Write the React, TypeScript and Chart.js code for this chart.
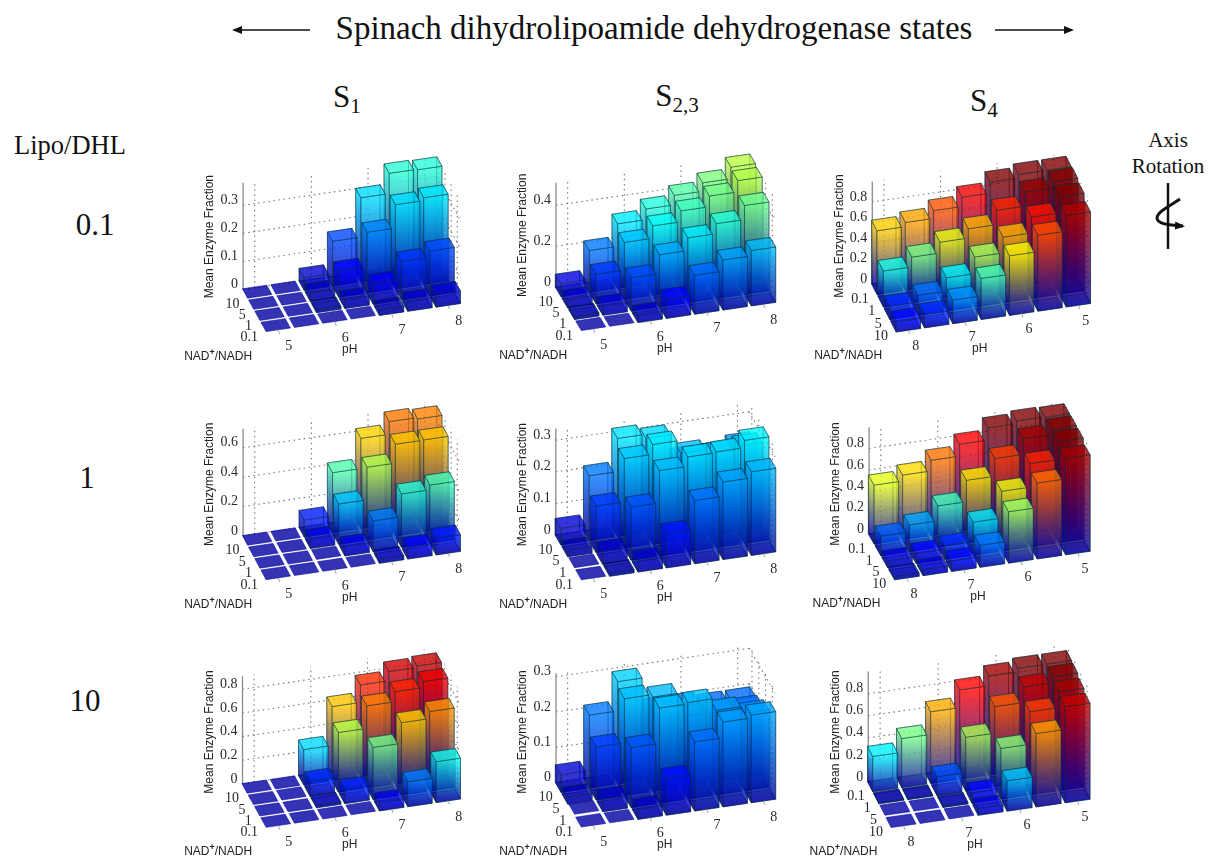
import React, { useEffect, useRef } from "react";
import { Chart, registerables } from "chart.js";

Chart.register(...registerables);

const phValues = [5, 5.5, 6, 6.5, 7, 7.5, 8];
const phTicks = [5, 6, 7, 8];
const nadValues = ["0.1", "1", "5", "10"];

// Mean enzyme fraction: one row per NAD+/NADH value, one entry per pH value
const s1Lipo01 = [
  [0.002, 0.002, 0.002, 0.002, 0.02, 0.035, 0.045],
  [0.002, 0.002, 0.01, 0.03, 0.073, 0.138, 0.16],
  [0.002, 0.002, 0.03, 0.093, 0.217, 0.3, 0.31],
  [0.002, 0.002, 0.045, 0.16, 0.3, 0.372, 0.37],
];
const s23Lipo01 = [
  [0.002, 0.002, 0.037, 0.093, 0.19, 0.244, 0.27],
  [0.015, 0.044, 0.163, 0.255, 0.317, 0.366, 0.434],
  [0.04, 0.145, 0.28, 0.34, 0.393, 0.445, 0.5],
  [0.063, 0.205, 0.315, 0.367, 0.413, 0.454, 0.51],
];
const s4Lipo01 = [
  [0.965, 0.965, 0.93, 0.825, 0.735, 0.66, 0.62],
  [0.975, 0.915, 0.78, 0.64, 0.55, 0.445, 0.35],
  [0.95, 0.795, 0.64, 0.487, 0.325, 0.195, 0.127],
  [0.89, 0.74, 0.58, 0.4, 0.23, 0.13, 0.1],
];
const s1Lipo1 = [
  [0.002, 0.002, 0.002, 0.002, 0.027, 0.08, 0.113],
  [0.002, 0.002, 0.005, 0.063, 0.21, 0.365, 0.397],
  [0.002, 0.002, 0.063, 0.275, 0.497, 0.625, 0.626],
  [0.002, 0.002, 0.116, 0.41, 0.615, 0.7, 0.69],
];
const s23Lipo1 = [
  [0.002, 0.01, 0.036, 0.108, 0.2, 0.245, 0.264],
  [0.003, 0.04, 0.168, 0.27, 0.3, 0.303, 0.326],
  [0.02, 0.147, 0.284, 0.315, 0.274, 0.26, 0.27],
  [0.052, 0.205, 0.31, 0.297, 0.22, 0.22, 0.236],
];
const s4Lipo1 = [
  [0.95, 0.955, 0.93, 0.815, 0.705, 0.605, 0.55],
  [0.95, 0.9, 0.755, 0.59, 0.39, 0.25, 0.185],
  [0.945, 0.78, 0.56, 0.31, 0.13, 0.095, 0.065],
  [0.9, 0.71, 0.48, 0.205, 0.1, 0.055, 0.03],
];
const s1Lipo10 = [
  [0.002, 0.002, 0.002, 0.003, 0.07, 0.21, 0.345],
  [0.002, 0.002, 0.02, 0.12, 0.44, 0.614, 0.673],
  [0.002, 0.005, 0.127, 0.505, 0.695, 0.78, 0.83],
  [0.002, 0.002, 0.3, 0.628, 0.775, 0.853, 0.865],
];
const s23Lipo10 = [
  [0.002, 0.002, 0.03, 0.104, 0.196, 0.24, 0.248],
  [0.005, 0.035, 0.17, 0.27, 0.274, 0.24, 0.22],
  [0.02, 0.15, 0.275, 0.268, 0.2, 0.2, 0.2],
  [0.05, 0.207, 0.29, 0.2, 0.2, 0.19, 0.19],
];
const s4Lipo10 = [
  [0.93, 0.93, 0.9, 0.81, 0.65, 0.445, 0.32],
  [0.925, 0.87, 0.73, 0.49, 0.17, 0.01, 0.01],
  [0.897, 0.755, 0.46, 0.095, 0.015, 0.005, 0.005],
  [0.87, 0.665, 0.275, 0.06, 0.005, 0.002, 0.002],
];

const ticks01 = [0, 0.1, 0.2, 0.3];
const ticks02 = [0, 0.2, 0.4];
const ticks04 = [0, 0.2, 0.4, 0.6];
const ticks08 = [0, 0.2, 0.4, 0.6, 0.8];

// Panel placement and oblique view (u = 1/3 px, measured on 3x crops)
const U = 1 / 3;
const panels = [
  { left: 170, top: 140, x0: 317, y0: 557, cs: 85, dxr: 18.5, dyr: 33.4, k: 843, zTop: 0.38, ticks: ticks01, values: s1Lipo01, flip: false },
  { left: 490, top: 140, x0: 302, y0: 553, cs: 85, dxr: 20.3, dyr: 34.2, k: 615, zTop: 0.51, ticks: ticks02, values: s23Lipo01, flip: false },
  { left: 800, top: 140, x0: 317, y0: 555, cs: 85, dxr: 19.2, dyr: 37.6, k: 308, zTop: 1.0, ticks: ticks08, values: s4Lipo01, flip: true },
  { left: 170, top: 390, x0: 317, y0: 550, cs: 85, dxr: 18.5, dyr: 34.5, k: 441, zTop: 0.73, ticks: ticks04, values: s1Lipo1, flip: false },
  { left: 490, top: 390, x0: 302, y0: 551, cs: 85, dxr: 20.5, dyr: 35.5, k: 950, zTop: 0.337, ticks: ticks01, values: s23Lipo1, flip: false },
  { left: 800, top: 390, x0: 312, y0: 549, cs: 85.5, dxr: 20.5, dyr: 35.8, k: 321, zTop: 1.0, ticks: ticks08, values: s4Lipo1, flip: true },
  { left: 170, top: 630, x0: 317, y0: 573, cs: 85, dxr: 19, dyr: 34.2, k: 355, zTop: 0.91, ticks: ticks08, values: s1Lipo10, flip: false },
  { left: 490, top: 630, x0: 302, y0: 573, cs: 85, dxr: 20.3, dyr: 35.3, k: 1060, zTop: 0.31, ticks: ticks01, values: s23Lipo10, flip: false },
  { left: 800, top: 630, x0: 303, y0: 573, cs: 87, dxr: 18.4, dyr: 36, k: 331, zTop: 1.0, ticks: ticks08, values: s4Lipo10, flip: true },
];

const CANVAS_W = 310;
const CANVAS_H = 230;
const COL_RISE = 12.5 * U;
const CORNER_COL = 0.41;
const CORNER_ROW = 0.4;
const HALF_COL = 0.43;
const HALF_ROW = 0.42;
const ALPHA = 0.7;
const INNER_ALPHA = 0.32;
const SERIF = "'Liberation Serif'";
const SANS = "'Liberation Sans'";

function jet(v: number): [number, number, number] {
  const t = Math.max(0, Math.min(1, 0.03 + v * 1.04));
  const ch = (c: number) => Math.max(0, Math.min(1, 1.5 - Math.abs(4 * t - c)));
  return [ch(3), ch(2), ch(1)].map((n) => Math.round(n * 255)) as [number, number, number];
}
const rgba = (c: number[], a: number) => `rgba(${c[0]},${c[1]},${c[2]},${a})`;

const bars3d = {
  id: "bars3d",
  beforeDatasetsDraw(chart: any, _a: any, opts: any) {
    const { ctx, scales } = chart;
    const p = opts.panel;
    const dxr = p.dxr * U;
    const dyr = p.dyr * U;
    const cornerCol = -CORNER_COL;
    const cornerRow = 3 + CORNER_ROW;
    const phOf = (col: number) => (p.flip ? 8 - col / 2 : 5 + col / 2);
    const pt = (col: number, row: number, z: number): [number, number] => [
      scales.x.getPixelForValue(phOf(col)) - row * dxr,
      scales.y.getPixelForValue(z) - (col - cornerCol) * COL_RISE - (row - cornerRow) * dyr,
    ];
    const poly = (pts: [number, number][]) => {
      ctx.beginPath();
      pts.forEach((q, i) => (i ? ctx.lineTo(q[0], q[1]) : ctx.moveTo(q[0], q[1])));
      ctx.closePath();
    };
    const endCol = 6 + CORNER_COL;
    const frontRow = -CORNER_ROW;

    // Dotted back walls
    ctx.save();
    ctx.strokeStyle = "rgba(105,105,105,0.9)";
    ctx.lineWidth = 1.1;
    ctx.setLineDash([1.5, 3.6]);
    const line = (a: [number, number], b: [number, number]) => {
      ctx.beginPath();
      ctx.moveTo(a[0], a[1]);
      ctx.lineTo(b[0], b[1]);
      ctx.stroke();
    };
    p.ticks.forEach((z: number) => {
      line(pt(cornerCol, cornerRow, z), pt(endCol, cornerRow, z));
      line(pt(endCol, cornerRow, z), pt(endCol, frontRow, z));
    });
    [0, 2, 4, 6].forEach((c) => line(pt(c, cornerRow, 0), pt(c, cornerRow, p.zTop)));
    [0, 1, 2, 3].forEach((r) => line(pt(endCol, r, 0), pt(endCol, r, p.zTop)));
    ctx.restore();

    // z axis
    ctx.strokeStyle = "#8a8a8a";
    ctx.lineWidth = 1.3;
    const a0 = pt(cornerCol, cornerRow, 0);
    const a1 = pt(cornerCol, cornerRow, p.zTop);
    ctx.beginPath();
    ctx.moveTo(a0[0], a0[1]);
    ctx.lineTo(a1[0], a1[1]);
    ctx.stroke();

    // Bars: far rows first, then far columns first
    for (let r = 3; r >= 0; r--) {
      const nadIdx = p.flip ? 3 - r : r;
      const data = chart.data.datasets[nadIdx].data;
      for (let c = 6; c >= 0; c--) {
        const ph = phOf(c);
        const item = data.find((d: any) => d.x === ph);
        const z = item.y;
        const L = c - HALF_COL;
        const R = c + HALF_COL;
        const F = r - HALF_ROW;
        const B = r + HALF_ROW;
        const face = (c1: number, r1: number, c2: number, r2: number, alpha: number) => {
          const q = [pt(c1, r1, 0), pt(c2, r2, 0), pt(c2, r2, z), pt(c1, r1, z)];
          poly(q);
          const gy0 = q[0][1];
          const g = ctx.createLinearGradient(0, gy0, 0, gy0 - Math.max(z * p.k * U, 1));
          g.addColorStop(0, rgba(jet(0), alpha));
          g.addColorStop(1, rgba(jet(z), alpha));
          ctx.fillStyle = g;
          ctx.fill();
          ctx.stroke();
        };
        ctx.lineWidth = 0.9;
        ctx.strokeStyle = "rgba(0,45,55,0.5)";
        if (z > 0.008) {
          poly([pt(L, F, 0), pt(R, F, 0), pt(R, B, 0), pt(L, B, 0)]);
          ctx.fillStyle = rgba(jet(0), 0.6);
          ctx.fill();
          ctx.stroke();
          face(L, B, R, B, INNER_ALPHA);
          face(R, B, R, F, INNER_ALPHA);
          face(L, B, L, F, ALPHA);
          face(L, F, R, F, ALPHA);
        }
        poly([pt(L, F, z), pt(R, F, z), pt(R, B, z), pt(L, B, z)]);
        ctx.fillStyle = rgba(jet(z), z > 0.008 ? ALPHA : 0.8);
        ctx.fill();
        if (z > 0.008) {
          ctx.stroke();
        } else {
          ctx.strokeStyle = rgba(jet(z), 0.6);
          ctx.stroke();
        }
      }
    }

    // Floor tick marks and labels
    ctx.fillStyle = "#2a2a2a";
    ctx.strokeStyle = "#888";
    ctx.lineWidth = 0.8;
    ctx.font = `14px ${SERIF}`;
    ctx.textBaseline = "middle";
    ctx.textAlign = "center";
    phTicks.forEach((ph) => {
      const col = p.flip ? (8 - ph) * 2 : (ph - 5) * 2;
      const q = pt(col, 0, 0);
      const e = pt(col, frontRow, 0);
      ctx.beginPath();
      ctx.moveTo(e[0], e[1]);
      ctx.lineTo(e[0] + 1.5, e[1] + 4);
      ctx.stroke();
      ctx.fillText(String(ph), q[0] + (p.flip ? 10 : 13), q[1] + 21);
    });
    ctx.textAlign = "right";
    nadValues.forEach((label, i) => {
      const row = p.flip ? 3 - i : i;
      const q = pt(-CORNER_COL, row, 0);
      ctx.fillText(label, q[0] - 6, q[1] + 10);
    });

    const ox = p.x0 * U;
    const oy = p.y0 * U;
    ctx.font = `12px ${SANS}`;
    ctx.fillStyle = "#222";
    ctx.textAlign = "center";
    ctx.fillText("pH", ox + 74, oy + 24);
    ctx.textAlign = "left";
    let tx = ox - 91.5;
    const ty = oy + 31;
    ctx.fillText("NAD", tx, ty);
    tx += ctx.measureText("NAD").width;
    ctx.font = `bold 9px ${SANS}`;
    ctx.fillText("+", tx, ty - 4);
    tx += ctx.measureText("+").width;
    ctx.font = `12px ${SANS}`;
    ctx.fillText("/NADH", tx, ty);

    ctx.save();
    ctx.translate(a0[0] - 33, oy - 89);
    ctx.rotate(-Math.PI / 2);
    ctx.textAlign = "center";
    ctx.fillText("Mean Enzyme Fraction", 0, 0);
    ctx.restore();
  },
};

function Panel({ panel }: { panel: (typeof panels)[number] }) {
  const ref = useRef<HTMLCanvasElement>(null);
  useEffect(() => {
    const cs = panel.cs * U;
    const x0 = panel.x0 * U;
    const cornerOffsetX = -CORNER_COL * cs - (3 + CORNER_ROW) * panel.dxr * U;
    const axisX = x0 + cornerOffsetX;
    const axisY = (panel.y0 + CORNER_COL * 12.5 - (3 + CORNER_ROW) * panel.dyr) * U;
    const kPx = panel.k * U;
    const pxPerPh = 2 * cs;
    const xScale = panel.flip
      ? { min: 8 - (CANVAS_W - x0) / pxPerPh, max: 8 + (x0 - axisX) / pxPerPh, reverse: true }
      : { min: 5 - (x0 - axisX) / pxPerPh, max: 5 + (CANVAS_W - x0) / pxPerPh, reverse: false };
    const chart = new Chart(ref.current as HTMLCanvasElement, {
      type: "scatter",
      data: {
        datasets: panel.values.map((row, i) => ({
          label: `NAD+/NADH ${nadValues[i]}`,
          data: phValues.map((x, j) => ({ x, y: row[j] })),
          pointRadius: 0,
          showLine: false,
        })),
      },
      options: {
        animation: false,
        responsive: false,
        devicePixelRatio: 1,
        layout: { padding: 0 },
        plugins: {
          legend: { display: false },
          tooltip: { enabled: false },
          bars3d: { panel },
        } as any,
        scales: {
          x: { type: "linear", display: false, bounds: "data", ...xScale },
          y: {
            type: "linear",
            bounds: "data",
            min: (axisY - CANVAS_H) / kPx,
            max: axisY / kPx,
            grid: { display: false, drawTicks: false },
            border: { display: false },
            afterBuildTicks: (s: any) => {
              s.ticks = panel.ticks.map((value) => ({ value }));
            },
            afterFit: (s: any) => {
              s.width = axisX;
              s.paddingTop = 0;
              s.paddingBottom = 0;
            },
            ticks: {
              autoSkip: false,
              padding: 5,
              labelOffset: -5,
              color: "#2a2a2a",
              font: { family: SERIF, size: 14 },
              callback: (v: any) => String(v),
            },
          },
        },
      },
      plugins: [bars3d as any],
    });
    return () => chart.destroy();
  }, [panel]);
  return (
    <canvas
      ref={ref}
      width={CANVAS_W}
      height={CANVAS_H}
      style={{ position: "absolute", left: panel.left, top: panel.top, width: CANVAS_W, height: CANVAS_H, filter: "blur(0.55px)" }}
    />
  );
}

function Label({ x, y, size, children }: any) {
  return (
    <div
      style={{
        position: "absolute",
        left: x,
        top: y,
        transform: "translate(-50%,-50%)",
        fontFamily: SERIF,
        fontSize: size,
        color: "#111",
        whiteSpace: "nowrap",
        lineHeight: 1,
      }}
    >
      {children}
    </div>
  );
}

const subStyle = { fontSize: "0.68em", verticalAlign: "-0.3em", lineHeight: 0 } as const;

export default function App() {
  return (
    <div style={{ position: "fixed", left: 0, top: 0, width: 1210, height: 858, background: "#fff", overflow: "hidden" }}>
      {panels.map((p, i) => (
        <Panel key={i} panel={p} />
      ))}
      <Label x={654} y={28} size={33}>Spinach dihydrolipoamide dehydrogenase states</Label>
      <Label x={347} y={96} size={31}>S<sub style={subStyle}>1</sub></Label>
      <Label x={677} y={95} size={31}>S<sub style={subStyle}>2,3</sub></Label>
      <Label x={984} y={100} size={31}>S<sub style={subStyle}>4</sub></Label>
      <Label x={70} y={145} size={26.5}>Lipo/DHL</Label>
      <Label x={95} y={224} size={31}>0.1</Label>
      <Label x={87} y={477} size={31}>1</Label>
      <Label x={85} y={700} size={31}>10</Label>
      <Label x={1168} y={140} size={21}>Axis</Label>
      <Label x={1168} y={166} size={21}>Rotation</Label>
      <svg width={1210} height={858} style={{ position: "absolute", left: 0, top: 0, pointerEvents: "none" }}>
        <defs>
          <marker id="ah" markerWidth="10" markerHeight="8" refX="8" refY="4" orient="auto" markerUnits="userSpaceOnUse">
            <path d="M0,0 L10,4 L0,8 Z" fill="#111" />
          </marker>
        </defs>
        <line x1={310} y1={30} x2={234} y2={30} stroke="#111" strokeWidth={1.5} markerEnd="url(#ah)" />
        <line x1={995} y1={30} x2={1072} y2={30} stroke="#111" strokeWidth={1.5} markerEnd="url(#ah)" />
        <line x1={1168} y1={183} x2={1168} y2={249} stroke="#111" strokeWidth={2.5} />
        <path d="M1180,199 C1168,207 1157,212 1157,218 C1157,224 1168,225 1183,226" fill="none" stroke="#111" strokeWidth={3} markerEnd="url(#ah)" />
      </svg>
    </div>
  );
}
